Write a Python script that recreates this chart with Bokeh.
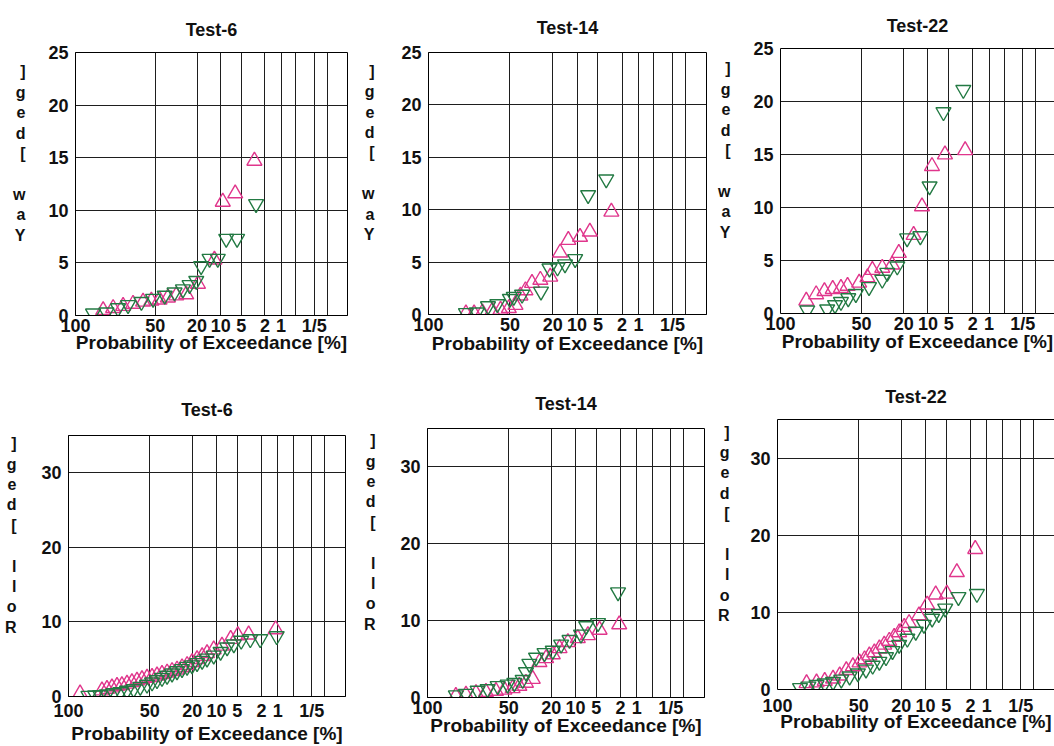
import numpy as np
from bokeh.plotting import figure
from bokeh.layouts import row, column
from bokeh.models import Range1d, FixedTicker, CustomJSTickFormatter, LinearAxis
from bokeh.embed import file_html
from bokeh.resources import INLINE

# Probability-of-exceedance axis (Rayleigh paper): ticks, labels and grid
prob_ticks = [100, 50, 20, 10, 5, 2, 1, 0.2]
prob_tick_labels = ["100", "50", "20", "10", "5", "2", "1", "1/5"]
prob_grid = [50, 20, 10, 5, 2, 1, 0.5, 0.2, 0.1]

titles = ["Test-6", "Test-14", "Test-22"]

# Yaw, Test-6
yaw6_up_p = [92.0, 85.7, 78.1, 69.7, 60.8, 53.4, 46.3, 39.4, 33.1, 26.3, 19.5, 12.2, 9.4, 6.2, 3.05]
yaw6_up_v = [0.5, 0.7, 0.9, 1.1, 1.3, 1.4, 1.5, 1.7, 1.9, 2.0, 3.0, 5.3, 10.8, 11.6, 14.7]
yaw6_dn_p = [96.7, 90.1, 82.1, 74.0, 62.3, 51.9, 42.0, 34.3, 28.4, 24.2, 20.4, 17.9, 14.1, 11.0, 8.4, 5.8, 2.86]
yaw6_dn_v = [0.2, 0.3, 0.7, 1.0, 1.3, 1.6, 1.9, 2.2, 2.5, 2.9, 3.3, 4.7, 5.4, 5.4, 7.3, 7.3, 10.6]

# Yaw, Test-14
yaw14_up_p = [86.4, 80.5, 73.8, 65.4, 58.2, 51.0, 45.4, 41.4, 37.5, 32.7, 27.1, 21.3, 16.4, 13.0, 9.1, 6.6, 3.05]
yaw14_up_v = [0.1, 0.1, 0.2, 0.35, 0.45, 0.6, 0.9, 1.8, 2.3, 3.0, 3.3, 3.6, 5.9, 7.1, 7.4, 7.9, 9.8]
yaw14_dn_p = [86.4, 78.4, 69.1, 61.0, 50.1, 46.8, 40.1, 26.7, 21.7, 17.6, 14.3, 10.6, 7.0, 3.7]
yaw14_dn_v = [0.15, 0.2, 0.8, 1.0, 1.5, 1.7, 1.9, 2.2, 4.4, 4.5, 4.8, 5.3, 11.4, 12.9]

# Yaw, Test-22
yaw22_up_p = [93.2, 87.4, 81.5, 74.9, 67.9, 62.1, 51.9, 44.9, 40.9, 33.4, 26.7, 22.7, 15.3, 12.0, 8.8, 5.7, 2.7]
yaw22_up_v = [1.2, 1.8, 2.1, 2.3, 2.4, 2.6, 2.9, 3.4, 4.1, 4.3, 4.6, 5.7, 7.4, 10.1, 13.9, 15.0, 15.4]
yaw22_dn_p = [92.7, 79.4, 73.0, 67.9, 61.5, 54.8, 43.6, 33.4, 29.9, 23.6, 18.3, 12.6, 9.5, 6.0, 2.9]
yaw22_dn_v = [0.3, 0.4, 0.8, 1.1, 1.45, 1.85, 2.5, 3.2, 3.85, 4.45, 7.1, 7.3, 12.0, 19.0, 21.1]

# Roll, Test-6
roll6_up_p = [98.6, 88.9, 85.6, 82.0, 78.1, 74.1, 69.8, 65.5, 61.1, 56.7, 52.3, 48.0, 43.9, 39.9, 36.0,
              32.4, 29.0, 25.8, 22.8, 20.1, 17.6, 15.3, 13.3, 10.9, 8.4, 6.3, 4.9, 3.3, 1.1]
roll6_up_v = [0.4, 0.8, 1.0, 1.2, 1.4, 1.5, 1.7, 1.9, 2.1, 2.3, 2.5, 2.6, 2.8, 3.0, 3.2,
              3.4, 3.6, 3.9, 4.2, 4.6, 5.0, 5.4, 5.8, 6.3, 6.8, 7.7, 8.2, 8.3, 9.0]
roll6_dn_p = [95.9, 92.8, 90.0, 85.6, 80.8, 75.4, 69.8, 64.0, 58.2, 52.3, 48.0, 43.9, 39.9, 36.0, 32.4,
              29.0, 25.8, 22.8, 20.1, 17.6, 15.3, 13.3, 10.9, 8.8, 7.1, 5.65, 4.35, 3.1, 2.1, 1.05]
roll6_dn_v = [0.1, 0.15, 0.2, 0.3, 0.45, 0.6, 0.8, 1.0, 1.3, 1.6, 1.9, 2.2, 2.5, 2.8, 3.1,
              3.4, 3.7, 4.0, 4.2, 4.5, 4.8, 5.1, 5.5, 6.0, 6.6, 7.0, 7.5, 7.7, 7.7, 8.1]

# Roll, Test-14
roll14_up_p = [91.9, 85.6, 78.1, 69.8, 61.1, 53.7, 46.7, 41.2, 36.1, 31.2, 26.8, 22.8, 19.2, 16.0, 12.6, 9.3, 6.7, 4.45, 2.1]
roll14_up_v = [0.2, 0.35, 0.55, 0.7, 0.85, 1.0, 1.2, 1.5, 1.9, 2.4, 4.6, 5.1, 5.6, 6.4, 7.2, 7.7, 8.1, 8.8, 9.5]
roll14_dn_p = [91.9, 85.6, 76.8, 68.4, 59.6, 50.9, 45.3, 38.6, 36.1, 33.6, 29.0, 23.7, 19.2, 15.3, 12.0, 8.4, 7.1, 4.7, 2.2]
roll14_dn_v = [0.3, 0.5, 0.9, 1.1, 1.5, 1.7, 1.9, 2.3, 3.3, 4.4, 5.2, 5.8, 6.1, 6.9, 7.5, 8.2, 9.3, 9.7, 13.7]

# Roll, Test-22
roll22_up_p = [91.5, 85.2, 79.1, 72.3, 66.6, 60.8, 55.0, 49.3, 45.1, 41.2, 37.3, 33.6, 30.2, 26.9, 23.9,
               21.1, 18.5, 16.2, 12.2, 9.5, 7.2, 4.9, 3.4, 1.64]
roll22_up_v = [0.8, 0.9, 1.1, 1.4, 1.8, 2.5, 3.0, 3.5, 3.9, 4.4, 4.8, 5.3, 5.8, 6.3, 6.8,
               7.4, 8.1, 8.6, 9.6, 11.0, 12.3, 12.4, 15.2, 18.2]
roll22_dn_p = [94.8, 90.5, 85.2, 79.1, 72.3, 65.2, 57.9, 50.7, 43.9, 38.6, 33.6, 29.0, 24.9, 21.1, 17.0,
               13.4, 10.5, 8.1, 6.5, 5.2, 3.2, 1.53]
roll22_dn_v = [0.2, 0.4, 0.6, 0.8, 1.0, 1.3, 1.7, 2.1, 2.6, 3.1, 3.6, 4.2, 5.0, 5.8, 6.6,
               7.5, 8.4, 9.2, 9.8, 10.5, 12.0, 12.4]

yaw_ticks = [0, 5, 10, 15, 20, 25]
roll_ticks = [0, 10, 20, 30]

FONT = "Liberation Sans"
PINK = "#e0368c"
GREEN = "#237a43"
GRID = "#1e1e1e"


def rayleigh(p):
    """Rayleigh probability-paper coordinate for an exceedance probability in %."""
    return np.sqrt(-np.log(np.asarray(p, dtype=float) / 100.0))


def stacked(text, pad):
    # characters written bottom-to-top, each one upright
    chars = list(text[::-1])
    return "\n".join(chars + ["\u00a0"] * pad)


def panel(title, up_p, up_v, dn_p, dn_v, yticks, ymax, ylabel, w, h, bl, br, bt, bb,
          xmax, open_right, title_sd, xlab_sd, xtitle_sd, ylab_sd):
    p = figure(width=w, height=h, x_range=Range1d(0, xmax), y_range=Range1d(0, ymax),
               output_backend="svg", toolbar_location=None,
               min_border_left=bl, min_border_right=br, min_border_top=bt, min_border_bottom=bb)
    p.background_fill_color = "white"
    p.border_fill_color = "white"
    p.outline_line_color = None if open_right else "black"
    p.outline_line_width = 1

    p.title.text = title
    p.title.align = "center"
    p.title.text_font = FONT
    p.title.text_font_style = "bold"
    p.title.text_font_size = "18px"
    p.title.text_color = "#111111"
    p.title.standoff = title_sd

    tick_u = [float(v) for v in rayleigh(prob_ticks)]
    xa = p.xaxis[0]
    xa.ticker = FixedTicker(ticks=tick_u, minor_ticks=[])
    xa.formatter = CustomJSTickFormatter(args=dict(t=tick_u, l=prob_tick_labels), code="""
        for (let i = 0; i < t.length; i++) {
            if (Math.abs(t[i] - tick) < 1e-6) { return l[i]; }
        }
        return "";
    """)
    xa.axis_label = "Probability of Exceedance [%]"
    xa.major_label_standoff = xlab_sd
    xa.axis_label_standoff = xtitle_sd

    ya = p.yaxis[0]
    ya.ticker = FixedTicker(ticks=yticks, minor_ticks=[])
    ya.axis_label = stacked(ylabel, 3)
    ya.axis_label_orientation = "horizontal"
    ya.major_label_standoff = 7
    ya.axis_label_standoff = ylab_sd

    for ax in (xa, ya):
        ax.major_tick_out = 0
        ax.major_tick_in = 0
        ax.minor_tick_out = 0
        ax.minor_tick_in = 0
        ax.axis_line_color = "black"
        ax.axis_line_width = 1
        ax.major_label_text_font = FONT
        ax.major_label_text_font_style = "bold"
        ax.major_label_text_font_size = "18px"
        ax.major_label_text_color = "#111111"
        ax.axis_label_text_font = FONT
        ax.axis_label_text_font_style = "bold"
        ax.axis_label_text_color = "#111111"
    xa.axis_label_text_font_size = "19px"
    ya.axis_label_text_font_size = "16px"

    if open_right:
        top = LinearAxis(ticker=FixedTicker(ticks=[], minor_ticks=[]),
                         major_tick_out=0, major_tick_in=0, minor_tick_out=0, minor_tick_in=0,
                         major_label_text_font_size="0px", axis_line_color="black")
        p.add_layout(top, "above")

    p.xgrid.ticker = FixedTicker(ticks=[float(v) for v in rayleigh(prob_grid)], minor_ticks=[])
    p.ygrid.ticker = FixedTicker(ticks=yticks, minor_ticks=[])
    for g in (p.xgrid, p.ygrid):
        g.grid_line_color = GRID
        g.grid_line_width = 1

    p.scatter(rayleigh(up_p), up_v, marker="triangle", size=15, fill_color=None,
              line_color=PINK, line_width=1.4)
    p.scatter(rayleigh(dn_p), dn_v, marker="inverted_triangle", size=15, fill_color=None,
              line_color=GREEN, line_width=1.4)
    return p


p1 = panel(titles[0], yaw6_up_p, yaw6_up_v, yaw6_dn_p, yaw6_dn_v, yaw_ticks, 25, "Yaw [deg]",
           352, 370, 75, 5, 52, 55, 2.84, False, 26, 0, -7, 20)
p2 = panel(titles[1], yaw14_up_p, yaw14_up_v, yaw14_dn_p, yaw14_dn_v, yaw_ticks, 25, "Yaw [deg]",
           358, 370, 76, 4, 48, 56, 2.84, False, 30, 0, -5, 24)
p3 = panel(titles[2], yaw22_up_p, yaw22_up_v, yaw22_dn_p, yaw22_dn_v, yaw_ticks, 25, "Yaw [deg]",
           344, 370, 70, 0, 43, 57, 2.82, True, 26, 0, -6, 20)
p4 = panel(titles[0], roll6_up_p, roll6_up_v, roll6_dn_p, roll6_dn_v, roll_ticks, 35, "Roll [deg]",
           352, 376, 68, 7, 65, 47, 2.84, False, 32, 4, -1, 22)
p5 = panel(titles[1], roll14_up_p, roll14_up_v, roll14_dn_p, roll14_dn_v, roll_ticks, 35, "Roll [deg]",
           358, 376, 75, 6, 58, 49, 2.84, False, 29, 0, -6, 22)
p6 = panel(titles[2], roll22_up_p, roll22_up_v, roll22_dn_p, roll22_dn_v, roll_ticks, 35, "Roll [deg]",
           344, 376, 67, 0, 49, 57, 2.84, True, 26, 6, -8, 18)

# each panel keeps its own frame position inside its cell
cells = [column(p) for p in (p1, p2, p3, p4, p5, p6)]
layout = column(row(*cells[:3]), row(*cells[3:]))
open("out.html", "w").write(file_html(layout, INLINE))
